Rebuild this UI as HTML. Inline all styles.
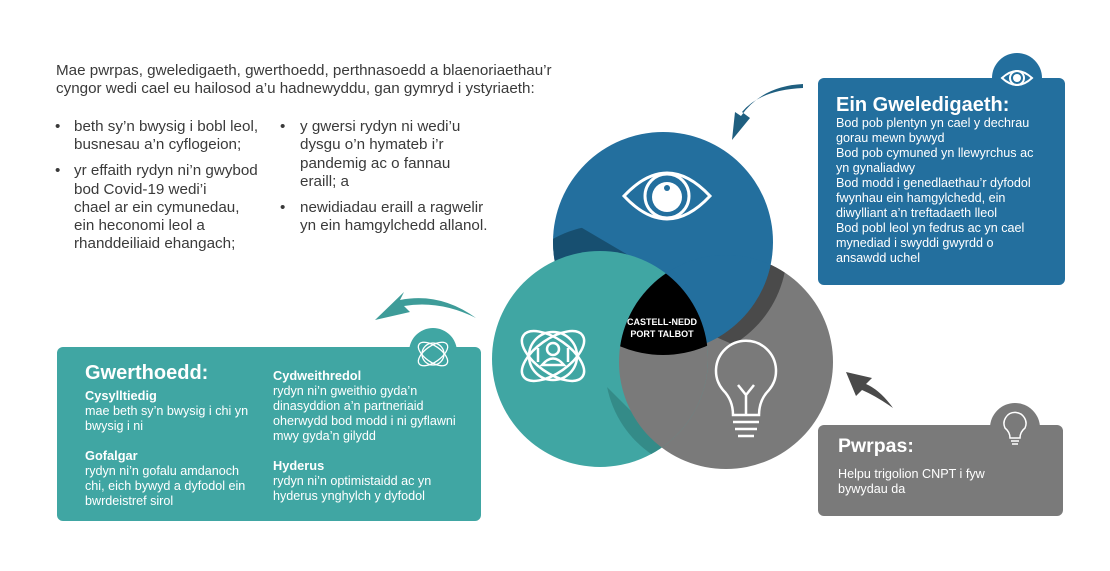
<!DOCTYPE html>
<html><head><meta charset="utf-8"><style>
body{margin:0;background:#fff}
svg{display:block}
text{font-family:"Liberation Sans",sans-serif}
.t{font-size:15.2px;fill:#3a3a3a}
.w{fill:#fff;font-size:12.6px}
.wb{fill:#fff;font-size:12.8px;font-weight:bold}
</style></head><body>
<svg width="1110" height="571" viewBox="0 0 1110 571" xmlns="http://www.w3.org/2000/svg">
<defs>
<clipPath id="cT"><circle cx="600" cy="359" r="108"/></clipPath>
<clipPath id="cG"><circle cx="726" cy="362" r="107"/></clipPath>
<clipPath id="cB"><circle cx="663" cy="242" r="110"/></clipPath>
<clipPath id="cR"><polygon points="700,330 760,240 860,240 860,400"/></clipPath>
<clipPath id="cL"><polygon points="540,215 560,215 640,262 540,275"/></clipPath>
<clipPath id="cD"><polygon points="595,375 700,480 560,480"/></clipPath>
</defs>
<text class="t" x="56" y="75">Mae pwrpas, gweledigaeth, gwerthoedd, perthnasoedd a blaenoriaethau’r</text>
<text class="t" x="56" y="93">cyngor wedi cael eu hailosod a’u hadnewyddu, gan gymryd i ystyriaeth:</text>
<g class="t">
<text x="55" y="131">•</text><text x="74" y="131">beth sy’n bwysig i bobl leol,</text>
<text x="74" y="149">busnesau a’n cyflogeion;</text>
<text x="55" y="175">•</text><text x="74" y="175">yr effaith rydyn ni’n gwybod</text>
<text x="74" y="194">bod Covid-19 wedi’i</text>
<text x="74" y="212">chael ar ein cymunedau,</text>
<text x="74" y="230">ein heconomi leol a</text>
<text x="74" y="248">rhanddeiliaid ehangach;</text>
<text x="280" y="131">•</text><text x="300" y="131">y gwersi rydyn ni wedi’u</text>
<text x="300" y="149">dysgu o’n hymateb i’r</text>
<text x="300" y="168">pandemig ac o fannau</text>
<text x="300" y="186">eraill; a</text>
<text x="280" y="212">•</text><text x="300" y="212">newidiadau eraill a ragwelir</text>
<text x="300" y="230">yn ein hamgylchedd allanol.</text>
</g>
<!-- venn -->
<circle cx="726" cy="362" r="107" fill="#7a7a7a"/>
<g clip-path="url(#cG)"><g clip-path="url(#cR)"><circle cx="677" cy="250" r="110" fill="#4a4a4a"/></g></g>
<circle cx="663" cy="242" r="110" fill="#236f9e"/>
<g clip-path="url(#cB)"><g clip-path="url(#cL)"><circle cx="606" cy="333" r="108" fill="#174f70"/></g></g>
<circle cx="600" cy="359" r="108" fill="#40a6a3"/>
<g clip-path="url(#cT)"><g clip-path="url(#cD)"><circle cx="712" cy="366" r="107" fill="#348b88"/></g></g>
<g clip-path="url(#cT)"><circle cx="726" cy="362" r="107" fill="#7a7a7a"/></g>
<g clip-path="url(#cG)"><circle cx="663" cy="242" r="110" fill="#236f9e"/></g>
<g clip-path="url(#cT)"><g clip-path="url(#cG)"><circle cx="663" cy="245" r="110" fill="#000"/></g></g>
<text x="662" y="325" fill="#fff" font-size="9" font-weight="bold" text-anchor="middle">CASTELL-NEDD</text>
<text x="662" y="337" fill="#fff" font-size="9" font-weight="bold" text-anchor="middle">PORT TALBOT</text>
<g stroke="#fff" stroke-width="3" fill="none"><path d="M624 196 Q667 150 710 196 Q667 242 624 196Z"/><circle cx="667" cy="196" r="22"/></g>
<circle cx="667" cy="197" r="15" fill="#fff"/><circle cx="667" cy="188" r="3" fill="#236f9e"/>
<g stroke="#fff" stroke-width="2.5" fill="none"><ellipse cx="553" cy="356" rx="36" ry="17" transform="rotate(-35 553 356)"/><ellipse cx="553" cy="356" rx="36" ry="17" transform="rotate(35 553 356)"/><circle cx="553" cy="356" r="24"/><circle cx="553" cy="349" r="6"/><path d="M542 365 Q553 352 564 365Z"/><path d="M538 348v14M568 348v14"/></g>
<g stroke="#fff" stroke-width="2.5" fill="none"><path d="M733 415 Q733 400 723 390 A30 30 0 1 1 769 390 Q759 400 759 415Z"/><path d="M746 415v-20l-8-10M746 395l8-10"/><path d="M733 422h26M735 429h22M738 436h16"/></g>
<!-- vision box -->
<circle cx="1017" cy="78" r="25" fill="#236f9e"/>
<rect x="818" y="78" width="247" height="207" rx="6" fill="#236f9e"/>
<g stroke="#fff" stroke-width="2" fill="none"><path d="M1002 78 Q1017 64 1032 78 Q1017 92 1002 78Z"/><circle cx="1017" cy="78" r="7"/></g><circle cx="1017" cy="78" r="4" fill="#fff"/>
<text x="836" y="111" fill="#fff" font-size="20" font-weight="bold">Ein Gweledigaeth:</text>
<g class="w"><text x="836" y="127">Bod pob plentyn yn cael y dechrau</text><text x="836" y="142">gorau mewn bywyd</text><text x="836" y="157">Bod pob cymuned yn llewyrchus ac</text><text x="836" y="172">yn gynaliadwy</text><text x="836" y="187">Bod modd i genedlaethau’r dyfodol</text><text x="836" y="202">fwynhau ein hamgylchedd, ein</text><text x="836" y="217">diwylliant a’n treftadaeth lleol</text><text x="836" y="232">Bod pobl leol yn fedrus ac yn cael</text><text x="836" y="247">mynediad i swyddi gwyrdd o</text><text x="836" y="262">ansawdd uchel</text></g>
<!-- pwrpas -->
<circle cx="1015" cy="428" r="25" fill="#7a7a7a"/>
<rect x="818" y="425" width="245" height="91" rx="6" fill="#7a7a7a"/>
<g stroke="#fff" stroke-width="1.5" fill="none"><path d="M1010 438 Q1010 432 1005 428 A11 11 0 1 1 1025 428 Q1020 432 1020 438Z"/><path d="M1011 441h8M1012 444h6"/></g>
<text x="838" y="452" fill="#fff" font-size="19.5" font-weight="bold">Pwrpas:</text>
<text class="w" x="838" y="478">Helpu trigolion CNPT i fyw</text><text class="w" x="838" y="493">bywydau da</text>
<!-- values -->
<circle cx="433" cy="352" r="24" fill="#40a6a3"/>
<rect x="57" y="347" width="424" height="174" rx="6" fill="#40a6a3"/>
<g stroke="#fff" stroke-width="1.3" fill="none"><ellipse cx="433" cy="354" rx="17" ry="8" transform="rotate(-35 433 354)"/><ellipse cx="433" cy="354" rx="17" ry="8" transform="rotate(35 433 354)"/><circle cx="433" cy="354" r="11"/></g>
<text x="85" y="379" fill="#fff" font-size="20" font-weight="bold">Gwerthoedd:</text>
<text class="wb" x="85" y="400">Cysylltiedig</text>
<text class="w" x="85" y="415">mae beth sy’n bwysig i chi yn</text><text class="w" x="85" y="430">bwysig i ni</text>
<text class="wb" x="85" y="460">Gofalgar</text>
<text class="w" x="85" y="475">rydyn ni’n gofalu amdanoch</text><text class="w" x="85" y="490">chi, eich bywyd a dyfodol ein</text><text class="w" x="85" y="505">bwrdeistref sirol</text>
<text class="wb" x="273" y="380">Cydweithredol</text>
<text class="w" x="273" y="395">rydyn ni’n gweithio gyda’n</text><text class="w" x="273" y="410">dinasyddion a’n partneriaid</text><text class="w" x="273" y="425">oherwydd bod modd i ni gyflawni</text><text class="w" x="273" y="440">mwy gyda’n gilydd</text>
<text class="wb" x="273" y="470">Hyderus</text>
<text class="w" x="273" y="485">rydyn ni’n optimistaidd ac yn</text><text class="w" x="273" y="500">hyderus ynghylch y dyfodol</text>
<!-- arrows -->
<path d="M803 88 Q760 90 742 112 L750 118 L732 140 L735 112 L741 116 Q762 86 803 84Z" fill="#1f5f80"/>
<path d="M476 318 Q440 292 400 300 L404 292 L375 320 L410 312 L404 306 Q440 300 476 318Z" fill="#3e9c99"/>
<path d="M893 408 Q880 390 866 384 L872 378 L846 372 L856 396 L862 390 Q876 396 893 408Z" fill="#4a4a4a"/>
</svg>
</body></html>
